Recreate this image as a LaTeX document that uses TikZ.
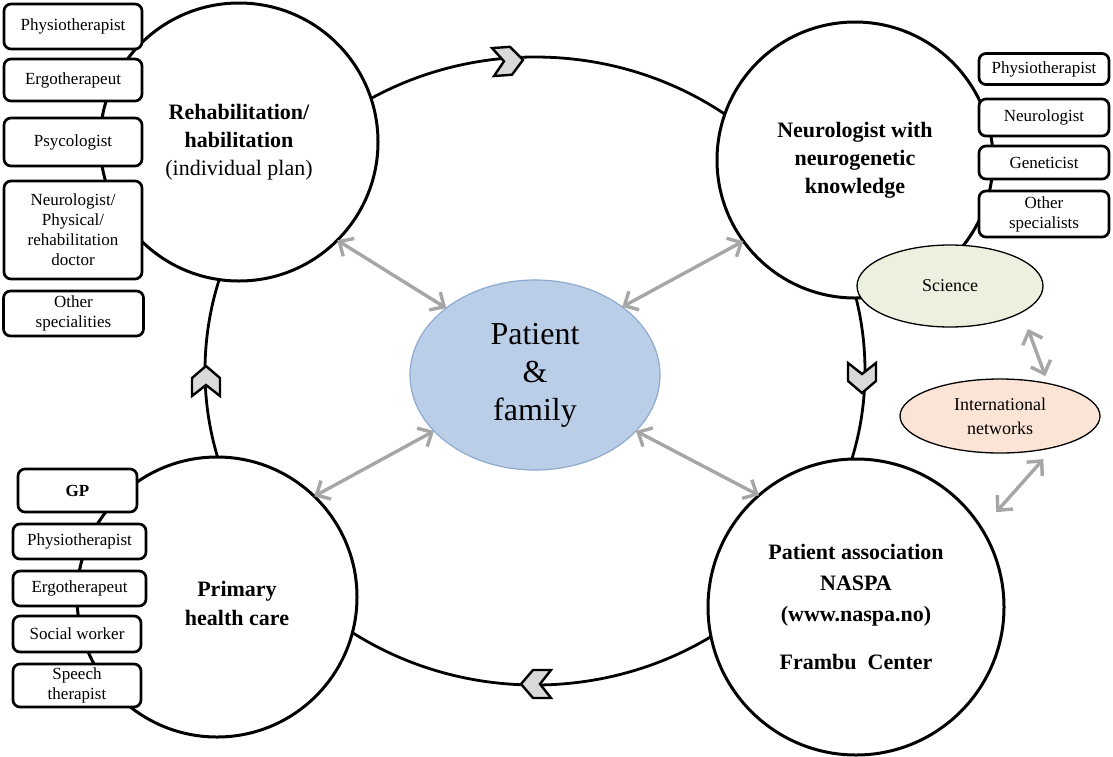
\documentclass[tikz,border=0pt]{standalone}
\usepackage{fontspec}
\setmainfont{Liberation Serif}
\usetikzlibrary{shapes.geometric,arrows.meta}
\definecolor{chevgray}{HTML}{D9D9D9}
\definecolor{linkgray}{HTML}{A6A6A6}
\definecolor{patientfill}{HTML}{BACEE8}
\definecolor{patientedge}{HTML}{8EAAD0}
\definecolor{sciencefill}{HTML}{EBF1DE}
\definecolor{netfill}{HTML}{FBE4D5}
\begin{document}
\begin{tikzpicture}[x=1pt,y=-1pt,
  loopring/.style={ellipse, draw, line width=2.8pt, minimum width=660pt, minimum height=628pt, inner sep=0pt, outer sep=0pt},
  hub/.style={circle, draw, fill=white, line width=3pt, inner sep=0pt, outer sep=0pt, align=center, font=\fontsize{22}{28}\selectfont\bfseries},
  hubtext/.style={align=center, inner sep=0pt, font=\fontsize{22}{29}\selectfont\bfseries},
  role/.style={draw, fill=white, rounded corners=7pt, line width=2.7pt, inner sep=0pt, outer sep=0pt, align=center, font=\fontsize{17}{20}\selectfont},
  bubble/.style={ellipse, draw, line width=1.3pt, inner sep=0pt, outer sep=0pt, align=center, font=\fontsize{18}{24}\selectfont},
  link/.style={draw=linkgray, line width=3.4pt, {Straight Barb[length=11pt,width=21pt]}-{Straight Barb[length=11pt,width=21pt]}},
  chev/.pic={\draw[fill=chevgray, line width=2.4pt, line join=miter] (-15,-14) -- (3,-14) -- (15,0) -- (3,14) -- (-15,14) -- (-4,0) -- cycle;}
]
\useasboundingbox (0,0) rectangle (1113,756);
\fill[white] (0,0) rectangle (1113,756);

% care cycle
\node[loopring] (loop) at (535,371) {};

% the four stations of the cycle
\node[hub, minimum size=278pt] (rehab) at (239,142) {Rehabilitation/\\habilitation\\{\mdseries(individual plan)}};
\node[hub, minimum size=276pt] (neuro) at (855,160) {Neurologist with\\neurogenetic\\knowledge};
\node[hub, minimum size=280pt] (primary) at (217,597) {};
\node[hubtext] (primarytxt) at (237,603) {Primary\\health care};
\node[hub, minimum size=296pt, font=\fontsize{22}{31}\selectfont\bfseries] (naspa) at (856,607) {Patient association\\NASPA\\(www.naspa.no)\\[17pt]Frambu~~Center};

% rehabilitation team
\node[role, minimum width=138pt, minimum height=45pt] (r1) at (73,26.5) {Physiotherapist};
\node[role, minimum width=138pt, minimum height=42pt] (r2) at (73,80) {Ergotherapeut};
\node[role, minimum width=138pt, minimum height=48pt] (r3) at (73,142) {Psycologist};
\node[role, minimum width=138pt, minimum height=98pt] (r4) at (73,230) {Neurologist/\\Physical/\\rehabilitation\\doctor};
\node[role, minimum width=140pt, minimum height=45pt] (r5) at (73.5,313.5) {Other\\specialities};

% neurology team
\node[role, minimum width=130pt, minimum height=31pt] (n1) at (1044,69) {Physiotherapist};
\node[role, minimum width=130pt, minimum height=37pt] (n2) at (1044,117.5) {Neurologist};
\node[role, minimum width=130pt, minimum height=33pt] (n3) at (1044,162.5) {Geneticist};
\node[role, minimum width=130pt, minimum height=46pt] (n4) at (1044,214) {Other\\specialists};

% primary care team
\node[role, minimum width=119pt, minimum height=43pt, font=\fontsize{17}{20}\selectfont\bfseries] (p1) at (77.5,490.5) {GP};
\node[role, minimum width=133pt, minimum height=35pt] (p2) at (79.5,541.5) {Physiotherapist};
\node[role, minimum width=133pt, minimum height=35pt] (p3) at (79.5,588.5) {Ergotherapeut};
\node[role, minimum width=128pt, minimum height=36pt] (p4) at (77,634) {Social worker};
\node[role, minimum width=128pt, minimum height=43pt] (p5) at (77,685.5) {Speech\\therapist};

% research links
\node[bubble, fill=sciencefill, minimum width=186pt, minimum height=82pt] (science) at (950,286) {Science};
\node[bubble, fill=netfill, minimum width=200pt, minimum height=74pt] (intl) at (1000,416) {International\\networks};

% centre
\node[ellipse, draw=patientedge, fill=patientfill, line width=1.2pt, inner sep=0pt, outer sep=0pt, minimum width=250pt, minimum height=190pt, align=center, font=\fontsize{32}{38}\selectfont] (patient) at (535,375) {Patient\\\&\\family};

% direction of the cycle
\pic[rotate=4] at (508,61) {chev};
\pic[rotate=-90] at (862,378) {chev};
\pic[rotate=180] at (536,684) {chev};
\pic[rotate=90] at (206,381) {chev};

% two-way links
\draw[link] (rehab.-45) -- (patient.143);
\draw[link] (patient.38) -- (neuro.-144);
\draw[link] (primary.46) -- (patient.-151);
\draw[link] (patient.-29) -- (naspa.131);
\draw[link, shorten <=18pt, shorten >=8pt] (science.-20) -- (intl.34);
\draw[link, shorten <=16pt, shorten >=22pt] (intl.-30) -- (naspa.32);
\end{tikzpicture}
\end{document}
